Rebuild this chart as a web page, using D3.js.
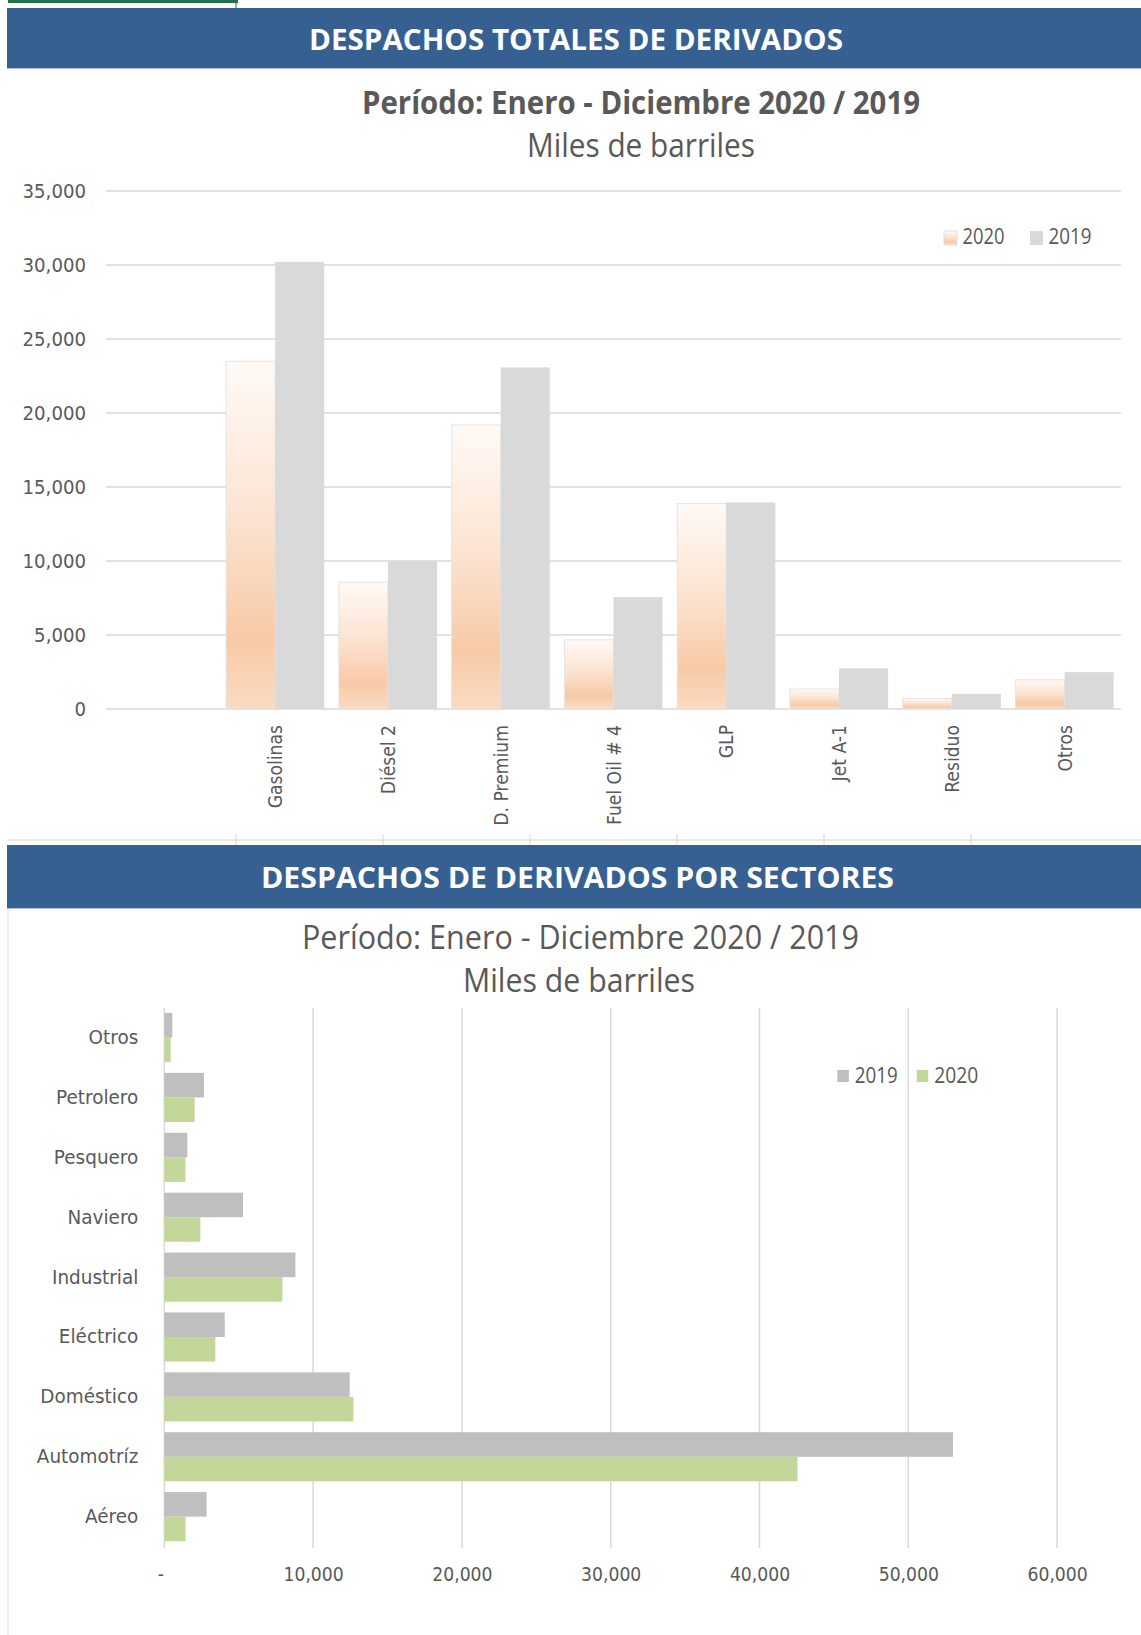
<!DOCTYPE html>
<html>
<head>
<meta charset="utf-8">
<script src="https://cdn.jsdelivr.net/npm/d3@7"></script>
<style>
  body { margin: 0; background: #fff; }
</style>
</head>
<body>
<div id="chart"></div>
<script>
// --- data (miles de barriles) ---
var productos = ["", "Gasolinas", "Diésel 2", "D. Premium", "Fuel Oil # 4", "GLP", "Jet A-1", "Residuo", "Otros"];
var despachos2020 = [null, 23500, 8580, 19200, 4670, 13890, 1350, 710, 1970];
var despachos2019 = [null, 30210, 9980, 23080, 7560, 13960, 2750, 1020, 2490];

var sectores = ["Aéreo", "Automotríz", "Doméstico", "Eléctrico", "Industrial", "Naviero", "Pesquero", "Petrolero", "Otros"];
var sectores2019 = [2840, 53000, 12460, 4060, 8810, 5290, 1550, 2670, 540];
var sectores2020 = [1430, 42550, 12710, 3430, 7940, 2425, 1420, 2040, 430];

var width = 1141, height = 1635;
var grey = "#595959";

var svg = d3.select("#chart").append("svg")
    .attr("width", width)
    .attr("height", height)
    .style("background", "#fff");

// narrow a text to a fraction of its natural width (source fonts are condensed)
function squeeze(sel, k) {
  sel.each(function() {
    var len = this.getComputedTextLength();
    d3.select(this).attr("textLength", len * k).attr("lengthAdjust", "spacingAndGlyphs");
  });
}

function heading(txt, x, y, size, weight, color, w) {
  svg.append("text")
      .attr("x", x).attr("y", y)
      .style("font-family", "'Open Sans', sans-serif")
      .style("font-size", size + "px")
      .style("font-weight", weight)
      .style("fill", color)
      .attr("textLength", w)
      .attr("lengthAdjust", "spacingAndGlyphs")
      .text(txt);
}

var defs = svg.append("defs");
var peach = defs.append("linearGradient").attr("id", "peach")
    .attr("x1", 0).attr("y1", 0).attr("x2", 0).attr("y2", 1);
peach.append("stop").attr("offset", 0).attr("stop-color", "#fffaf6");
peach.append("stop").attr("offset", 0.45).attr("stop-color", "#fce3d1");
peach.append("stop").attr("offset", 0.8).attr("stop-color", "#f8caa6");
peach.append("stop").attr("offset", 1).attr("stop-color", "#fadbc3");

// spreadsheet bits around the charts
svg.append("line").attr("x1", 8).attr("x2", 238).attr("y1", 1.5).attr("y2", 1.5)
    .style("stroke", "#217346").style("stroke-width", 3);
svg.append("line").attr("x1", 236).attr("x2", 236).attr("y1", 0).attr("y2", 9)
    .style("stroke", "#217346").style("stroke-width", 1);

svg.append("line").attr("x1", 7).attr("x2", width).attr("y1", 840).attr("y2", 840)
    .style("stroke", "#d4d4d4");
[236, 383, 530, 677, 824, 971].forEach(function(cx) {
  svg.append("line").attr("x1", cx).attr("x2", cx).attr("y1", 834).attr("y2", 845)
      .style("stroke", "#d4d4d4");
});
svg.append("line").attr("x1", 8).attr("x2", 8).attr("y1", 909).attr("y2", height)
    .style("stroke", "#d9d9d9");

// banners
svg.append("rect").attr("x", 7).attr("y", 8).attr("width", width - 7).attr("height", 60).style("fill", "#376092");
svg.append("line").attr("x1", 7).attr("x2", width).attr("y1", 68.5).attr("y2", 68.5).style("stroke", "#b7bfc9");
svg.append("rect").attr("x", 7).attr("y", 845).attr("width", width - 7).attr("height", 63).style("fill", "#376092");
svg.append("line").attr("x1", 7).attr("x2", width).attr("y1", 908.5).attr("y2", 908.5).style("stroke", "#b7bfc9");

heading("DESPACHOS TOTALES DE DERIVADOS", 309, 50, 29, 700, "#fff", 534);
heading("Período: Enero - Diciembre 2020 / 2019", 362, 114, 32, 700, grey, 558);
heading("Miles de barriles", 527, 157, 33, 400, grey, 228);

heading("DESPACHOS DE DERIVADOS POR SECTORES", 261, 888, 29, 700, "#fff", 633);
heading("Período: Enero - Diciembre 2020 / 2019", 302, 949, 32, 400, grey, 557);
heading("Miles de barriles", 463, 992, 32, 400, grey, 232);

// ---------------- top chart: vertical bars ----------------
var x0 = d3.scaleBand().domain(productos).range([106, 1121])
    .paddingInner(0.13).paddingOuter(0.065);
var x1 = d3.scaleBand().domain(["2020", "2019"]).range([0, x0.bandwidth()]);
var y = d3.scaleLinear().domain([0, 35000]).range([709, 191]);

var gTop = svg.append("g");

gTop.append("g").selectAll("line")
    .data(y.ticks(7))
    .enter().append("line")
      .attr("x1", 106).attr("x2", 1121)
      .attr("y1", function(d) { return y(d); })
      .attr("y2", function(d) { return y(d); })
      .style("stroke", "#d9d9d9").style("stroke-width", 1.5);

var serieTop = [
  { key: "2020", vals: despachos2020, fill: "url(#peach)", stroke: "#e4e4e4" },
  { key: "2019", vals: despachos2019, fill: "#d9d9d9", stroke: "none" }
];
serieTop.forEach(function(s) {
  var rows = productos.map(function(p, i) { return { p: p, v: s.vals[i] }; })
                      .filter(function(d) { return d.v != null; });
  gTop.append("g").selectAll("rect")
      .data(rows)
      .enter().append("rect")
        .attr("x", function(d) { return x0(d.p) + x1(s.key); })
        .attr("y", function(d) { return y(d.v); })
        .attr("width", x1.bandwidth())
        .attr("height", function(d) { return y(0) - y(d.v); })
        .style("fill", s.fill)
        .style("stroke", s.stroke);
});

var yAxis = gTop.append("g")
    .attr("transform", "translate(106,0)")
    .call(d3.axisLeft(y).ticks(7).tickFormat(d3.format(",")).tickSize(0).tickPadding(20));
yAxis.select(".domain").remove();
yAxis.selectAll("text")
    .style("font-family", "'DejaVu Sans', sans-serif")
    .style("font-size", "19.5px")
    .style("fill", grey)
    .call(squeeze, 0.93);

var xAxis = gTop.append("g")
    .attr("transform", "translate(0,709)")
    .call(d3.axisBottom(x0).tickSize(0));
xAxis.select(".domain").remove();
xAxis.selectAll("text")
    .attr("transform", "rotate(-90)")
    .attr("text-anchor", "end")
    .attr("x", -16).attr("y", 0).attr("dy", "0.35em")
    .style("font-family", "'DejaVu Sans', sans-serif")
    .style("font-size", "20px")
    .style("fill", grey)
    .call(squeeze, 0.86);

// legend
var legTop = [
  { key: "2020", fill: "url(#peach)", stroke: "#e0e0e0", x: 944, w: 42 },
  { key: "2019", fill: "#d9d9d9", stroke: "none", x: 1030, w: 43 }
];
legTop.forEach(function(l) {
  gTop.append("rect").attr("x", l.x).attr("y", 231).attr("width", 13).attr("height", 14)
      .style("fill", l.fill).style("stroke", l.stroke);
  gTop.append("text").attr("x", l.x + 18.5).attr("y", 244)
      .style("font-family", "'Open Sans', sans-serif").style("font-size", "22px").style("fill", grey)
      .attr("textLength", l.w).attr("lengthAdjust", "spacingAndGlyphs")
      .text(l.key);
});

// ---------------- bottom chart: horizontal bars ----------------
var xs = d3.scaleLinear().domain([0, 60000]).range([164.3, 1057.1]);
var ys = d3.scaleBand().domain(sectores.slice().reverse()).range([1007.6, 1546.6])
    .paddingInner(0.18).paddingOuter(0.09);
var ys1 = d3.scaleBand().domain(["2019", "2020"]).range([0, ys.bandwidth()]);

var gBot = svg.append("g");

gBot.append("g").selectAll("line")
    .data(xs.ticks(6))
    .enter().append("line")
      .attr("x1", function(d) { return xs(d); })
      .attr("x2", function(d) { return xs(d); })
      .attr("y1", 1008).attr("y2", 1548)
      .style("stroke", "#d9d9d9").style("stroke-width", 1.5);

var serieBot = [
  { key: "2019", vals: sectores2019, fill: "#bfbfbf" },
  { key: "2020", vals: sectores2020, fill: "#c4d79b" }
];
serieBot.forEach(function(s) {
  gBot.append("g").selectAll("rect")
      .data(sectores.map(function(c, i) { return { c: c, v: s.vals[i] }; }))
      .enter().append("rect")
        .attr("x", xs(0))
        .attr("y", function(d) { return ys(d.c) + ys1(s.key); })
        .attr("width", function(d) { return xs(d.v) - xs(0); })
        .attr("height", ys1.bandwidth())
        .style("fill", s.fill);
});

var catAxis = gBot.append("g")
    .attr("transform", "translate(164.3,0)")
    .call(d3.axisLeft(ys).tickSize(0).tickPadding(26));
catAxis.select(".domain").remove();
catAxis.selectAll("text")
    .style("font-family", "'DejaVu Sans', sans-serif")
    .style("font-size", "20px")
    .style("fill", grey)
    .call(squeeze, 0.92);

var valAxis = gBot.append("g")
    .attr("transform", "translate(0,1548)")
    .call(d3.axisBottom(xs).ticks(6)
      .tickFormat(function(d) { return d === 0 ? "-" : d3.format(",")(d); })
      .tickSize(0).tickPadding(19));
valAxis.select(".domain").remove();
valAxis.selectAll("text")
    .style("font-family", "'DejaVu Sans', sans-serif")
    .style("font-size", "20px")
    .style("fill", grey)
    .call(squeeze, 0.86);
valAxis.selectAll("text").filter(function(d) { return d === 0; }).attr("x", -4);

var legBot = [
  { key: "2019", fill: "#bfbfbf", x: 837.3, w: 43 },
  { key: "2020", fill: "#c4d79b", x: 916.7, w: 44 }
];
legBot.forEach(function(l) {
  gBot.append("rect").attr("x", l.x).attr("y", 1070).attr("width", 11.5).attr("height", 12)
      .style("fill", l.fill);
  gBot.append("text").attr("x", l.x + 17.5).attr("y", 1082.7)
      .style("font-family", "'Open Sans', sans-serif").style("font-size", "21.5px").style("fill", grey)
      .attr("textLength", l.w).attr("lengthAdjust", "spacingAndGlyphs")
      .text(l.key);
});
</script>
</body>
</html>
